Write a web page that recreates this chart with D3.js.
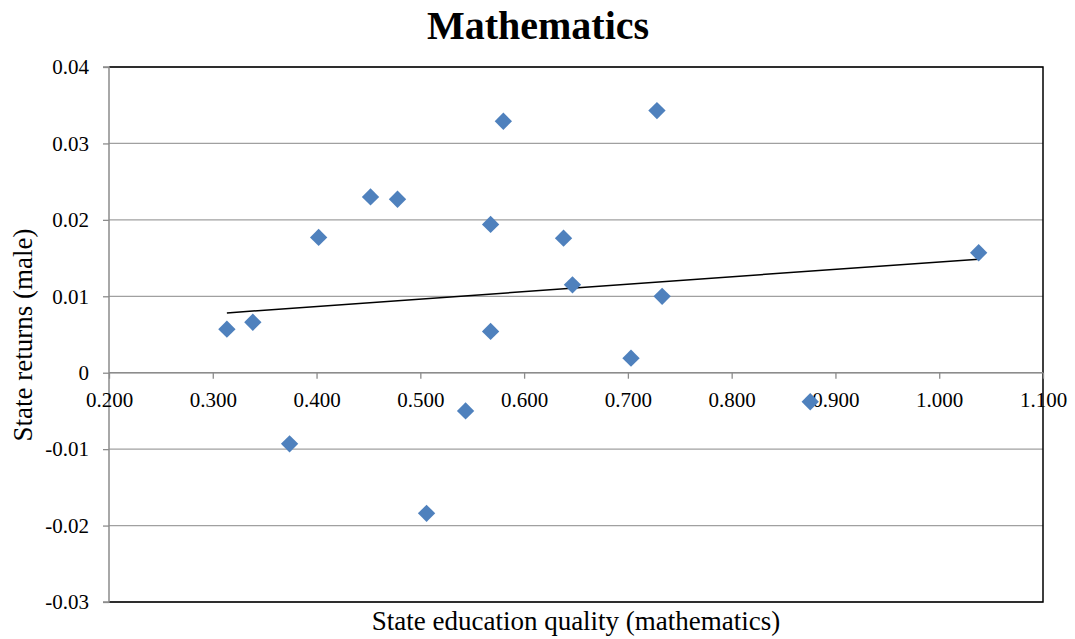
<!DOCTYPE html>
<html><head><meta charset="utf-8">
<script src="https://cdn.jsdelivr.net/npm/d3@7"></script>
<style>body{margin:0;background:#fff}svg{display:block}</style>
</head><body>
<svg id="c" width="1075" height="639"></svg>
<script>
const xValues = [0.3136,0.3386,0.374,0.402,0.452,0.478,0.506,0.5436,0.5677,0.5677,0.580,0.638,0.6466,0.703,0.728,0.733,0.8757,1.038];
const yValues = [0.0057,0.0066,-0.0093,0.0177,0.0230,0.0227,-0.0184,-0.0050,0.0194,0.0054,0.0329,0.0176,0.0115,0.0019,0.0343,0.0100,-0.0038,0.0157];
const xTicks = [0.2,0.3,0.4,0.5,0.6,0.7,0.8,0.9,1.0,1.1];
const yTicks = [0.04,0.03,0.02,0.01,0,-0.01,-0.02,-0.03];
const title = "Mathematics";
const xTitle = "State education quality (mathematics)";
const yTitle = "State returns (male)";

const svg = d3.select("#c");
const L = 109, R = 1043, T = 67, B = 602;
const x = d3.scaleLinear().domain([0.2,1.1]).range([L,R]);
const y = d3.scaleLinear().domain([-0.03,0.04]).range([B,T]);
const font = "'Liberation Serif','Times New Roman',serif";

// gridlines
svg.append("g").selectAll("line").data(yTicks).join("line")
  .attr("x1",L).attr("x2",R).attr("y1",d=>y(d)).attr("y2",d=>y(d))
  .attr("stroke","#a0a0a0").attr("stroke-width",1.3);

// plot border top/right/bottom
svg.append("path").attr("d",`M${L},${T}H${R}V${B}H${L}`).attr("fill","none").attr("stroke","#000").attr("stroke-width",1.5);

// y axis
const yAxis = d3.axisLeft(y).tickValues(yTicks).tickSize(6).tickPadding(14)
  .tickFormat(d=> d===0 ? "0" : d3.format(".2f")(d).replace("\u2212","-"));
const gy = svg.append("g").attr("transform",`translate(${L},0)`).call(yAxis);
gy.select(".domain").attr("stroke","#8c8c8c").attr("stroke-width",1.5).attr("d",`M-6,${T}H0V${B}H-6`);
gy.selectAll(".tick line").attr("stroke","#8c8c8c").attr("stroke-width",1.3);
gy.selectAll("text").attr("font-family",font).attr("font-size",21).attr("fill","#000");

// x axis at y=0
const xAxis = d3.axisBottom(x).tickValues(xTicks).tickSize(6).tickPadding(13).tickFormat(d3.format(".3f"));
const gx = svg.append("g").attr("transform",`translate(0,${y(0)})`).call(xAxis);
gx.select(".domain").attr("stroke","#8c8c8c").attr("stroke-width",1.5).attr("d",`M${L},0H${R}`);
gx.selectAll(".tick line").attr("stroke","#8c8c8c").attr("stroke-width",1.3);
gx.selectAll("text").attr("font-family",font).attr("font-size",21).attr("fill","#000");

// trend line (least squares)
const n = xValues.length;
const mx = d3.mean(xValues), my = d3.mean(yValues);
let sxy=0,sxx=0;
for(let i=0;i<n;i++){sxy+=(xValues[i]-mx)*(yValues[i]-my);sxx+=(xValues[i]-mx)**2;}
const slope = sxy/sxx, icpt = my - slope*mx;
const x0 = d3.min(xValues), x1 = d3.max(xValues);
svg.append("line").attr("x1",x(x0)).attr("y1",y(icpt+slope*x0)).attr("x2",x(x1)).attr("y2",y(icpt+slope*x1))
  .attr("stroke","#000").attr("stroke-width",1.5);

// points
const sym = d3.symbol().type(d3.symbolSquare).size(150);
svg.append("g").selectAll("path").data(xValues.map((v,i)=>[v,yValues[i]])).join("path")
  .attr("d",sym).attr("transform",d=>`translate(${x(d[0])},${y(d[1])}) rotate(45)`)
  .attr("fill","#4F81BD");

// titles
svg.append("text").attr("x",538).attr("y",39).attr("text-anchor","middle")
  .attr("font-family",font).attr("font-weight","bold").attr("font-size",40).text(title);
svg.append("text").attr("x",(L+R)/2).attr("y",630).attr("text-anchor","middle")
  .attr("font-family",font).attr("font-size",27).text(xTitle);
svg.append("text").attr("transform",`translate(32,335) rotate(-90)`).attr("text-anchor","middle")
  .attr("font-family",font).attr("font-size",27).text(yTitle);
</script>
</body></html>
